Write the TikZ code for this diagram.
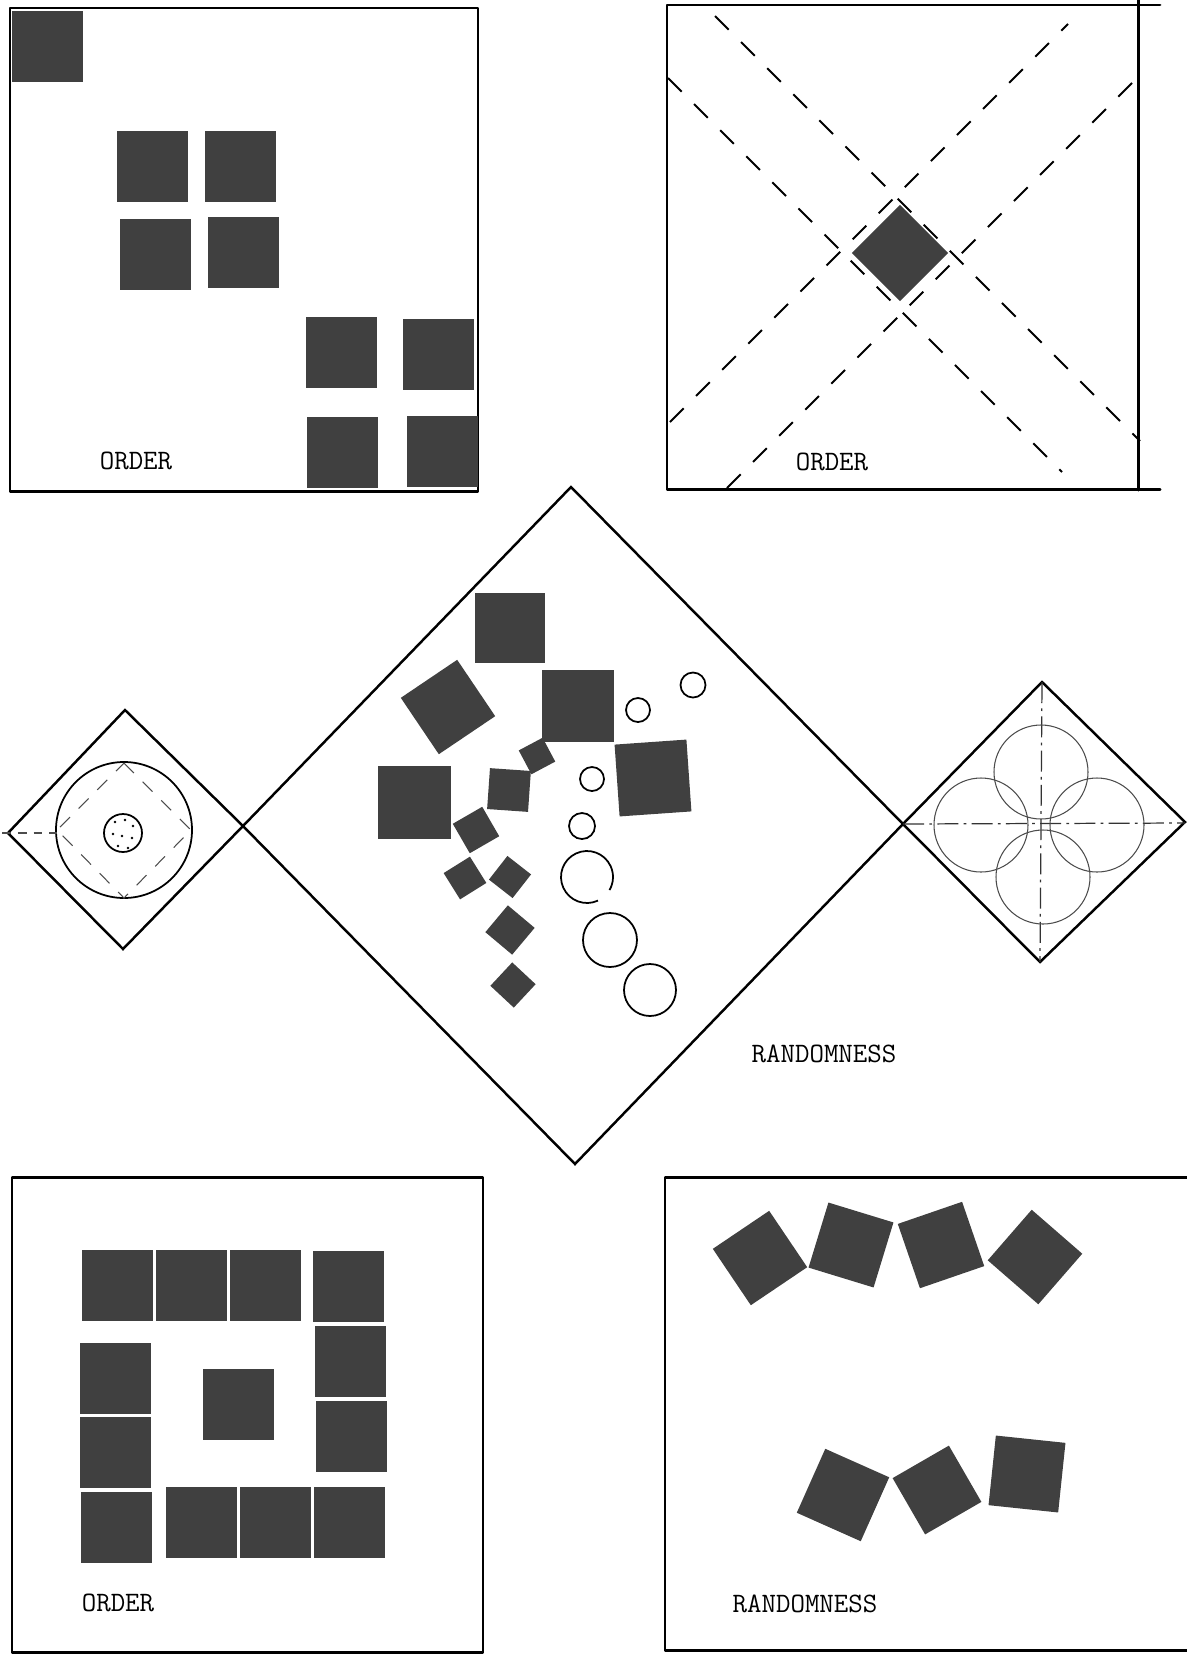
\documentclass[tikz,border=0pt]{standalone}
\usetikzlibrary{positioning}

\begin{document}
\begin{tikzpicture}[
  x=0.02cm, y=-0.02cm,
  frame/.style={line width=1.7pt, line cap=round, line join=round},
  outline/.style={line width=1.4pt, line join=miter},
  tile/.style={fill=black!75, inner sep=0pt, minimum size=#1*0.02cm},
  guide/.style={line width=1.1pt, dash pattern=on 11pt off 10pt},
  ring/.style={line width=1pt},
  faint/.style={line width=0.6pt, black!70},
  centreline/.style={line width=0.7pt, black!80, dash pattern=on 12pt off 3pt on 1.5pt off 3pt},
  caption/.style={font=\fontsize{16}{19}\selectfont\ttfamily, inner sep=0pt}
]
\useasboundingbox (0,0) rectangle (1187,1654);

% top left: order
\draw[frame] (10,8) rectangle (478,491);
\node[tile=71] (a0) at (47,46) {};
\node[tile=71] (a1) at (152,166) {};
\node[tile=71] (a2) at (240,166) {};
\node[tile=71] (a3) at (155,254) {};
\node[tile=71] (a4) at (243,252) {};
\node[tile=71] (a5) at (341,352) {};
\node[tile=71] (a6) at (438,354) {};
\node[tile=71] (a7) at (342,452) {};
\node[tile=71] (a8) at (442,451) {};
\node[caption] (order1) at (136,461) {ORDER};

% top right: order
\draw[frame] (1160,5) -- (667,5) -- (667,489) -- (1160,489);
\draw[frame] (1138,0) -- (1138,490);
\draw[guide] (715,16) -- (1140,441);
\draw[guide] (668,78) -- (1062,472);
\draw[guide] (670,422) -- (1068,24);
\draw[guide] (727,488) -- (1133,82);
\node[tile=68, rotate=45] (core) at (900,253) {};
\node[caption] (order2) at (832,462) {ORDER};

% middle row
\draw[outline] (571,487) -- (903,824) -- (575,1164) -- (243,826) -- cycle;
\draw[outline] (125,710) -- (243,826) -- (123,949) -- (8,833) -- cycle;
\draw[outline] (1042,682) -- (1185,822) -- (1040,962) -- (903,824) -- cycle;

\draw[ring] (124,830) circle[radius=68];
\draw[faint, dash pattern=on 8pt off 7pt] (124,763) -- (191,830) -- (124,898) -- (57,830) -- cycle;
\draw[faint, dash pattern=on 5pt off 4pt] (2,833) -- (57,833);
\draw[ring] (123,833) circle[radius=19];
\foreach \p in {(115,822),(125,820),(133,826),(113,834),(122,836),(132,838),(118,846),(128,848)}
  \fill \p circle[radius=1.3];

\draw[centreline] (903,824) -- (1185,823);
\draw[centreline] (1042,682) -- (1040,962);
\foreach \c in {(1041,772),(981,825),(1097,825),(1043,877)}
  \draw[faint] \c circle[radius=47];

\node[tile=70] (c1) at (510,628) {};
\node[tile=72] (c2) at (578,706) {};
\node[tile=68, rotate=34] (c3) at (448,707) {};
\node[tile=73] (c4) at (414,802) {};
\node[tile=27, rotate=28] (c5) at (537,756) {};
\node[tile=41, rotate=-4] (c6) at (509,790) {};
\node[tile=34, rotate=30] (c7) at (476,830) {};
\node[tile=31, rotate=32] (c8) at (465,878) {};
\node[tile=30, rotate=52] (c9) at (510,877) {};
\node[tile=35, rotate=50] (c10) at (510,930) {};
\node[tile=32, rotate=47] (c11) at (513,985) {};
\node[tile=72, rotate=4] (c12) at (653,778) {};

\draw[ring] (693,685) circle[radius=12.5];
\draw[ring] (638,710) circle[radius=12];
\draw[ring] (592,779) circle[radius=12];
\draw[ring] (582,826) circle[radius=13];
\draw[ring] (587,877) ++(65:26) arc[start angle=65, end angle=390, radius=26];
\draw[ring] (610,940) circle[radius=27];
\draw[ring] (650,990) circle[radius=26];
\node[caption] (rand1) at (824,1054) {RANDOMNESS};

% bottom left: order
\draw[frame] (12,1177) rectangle (483,1652);
\node[tile=71] (b1) at (117,1285) {};
\node[tile=71] (b2) at (191,1285) {};
\node[tile=71] (b3) at (265,1285) {};
\node[tile=71] (b4) at (348,1286) {};
\node[tile=71] (b5) at (350,1361) {};
\node[tile=71] (b6) at (351,1436) {};
\node[tile=71] (b7) at (115,1378) {};
\node[tile=71] (b8) at (115,1452) {};
\node[tile=71] (b9) at (116,1527) {};
\node[tile=71] (b10) at (201,1522) {};
\node[tile=71] (b11) at (275,1522) {};
\node[tile=71] (b12) at (349,1522) {};
\node[tile=71] (b13) at (238,1404) {};
\node[caption] (order3) at (118,1603) {ORDER};

% bottom right: randomness
\draw[frame] (1187,1177) -- (665,1177) -- (665,1650) -- (1187,1650);
\node[tile=68, rotate=34] (r1) at (760,1258) {};
\node[tile=68, rotate=-17] (r2) at (851,1245) {};
\node[tile=68, rotate=19] (r3) at (941,1245) {};
\node[tile=67, rotate=49] (r4) at (1035,1257) {};
\node[tile=70, rotate=66] (r5) at (843,1495) {};
\node[tile=65, rotate=30] (r6) at (937,1490) {};
\node[tile=70, rotate=-6] (r7) at (1027,1474) {};
\node[caption] (rand2) at (805,1604) {RANDOMNESS};
\end{tikzpicture}
\end{document}
